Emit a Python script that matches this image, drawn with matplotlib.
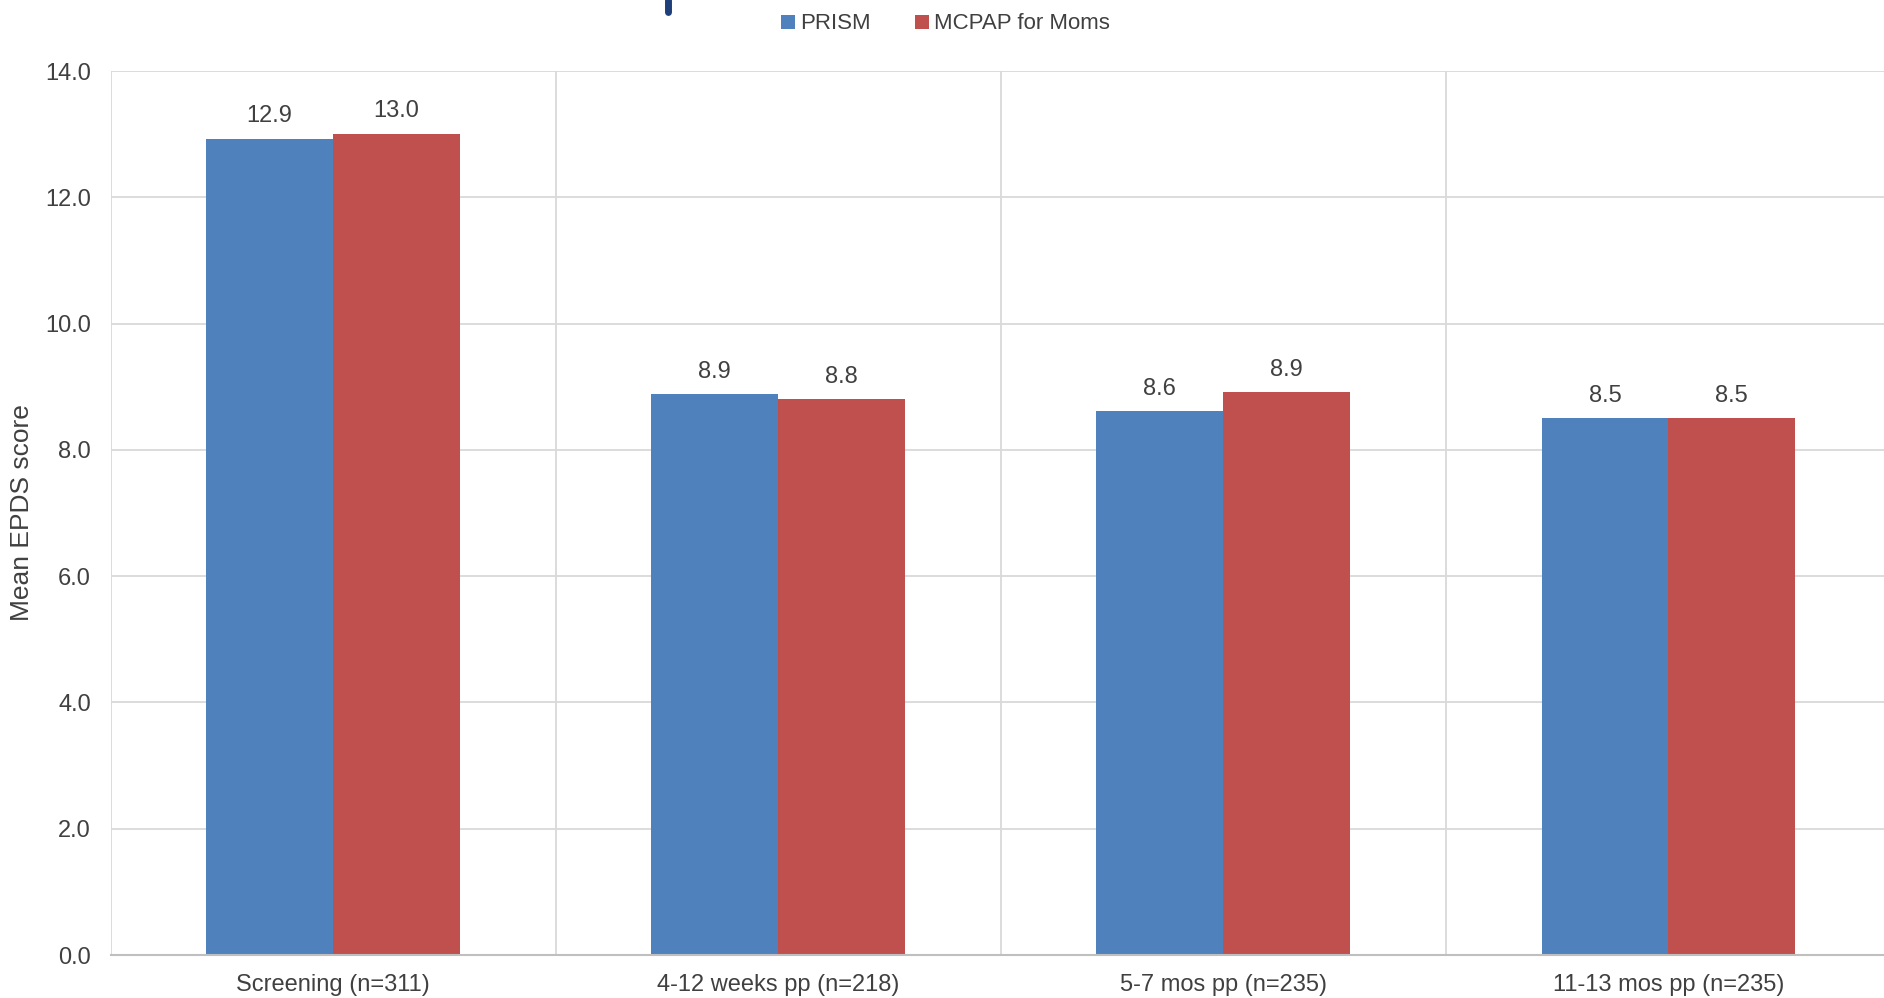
import matplotlib.pyplot as plt
import numpy as np
from matplotlib.lines import Line2D

categories = ['Screening (n=311)', '4-12 weeks pp (n=218)', '5-7 mos pp (n=235)', '11-13 mos pp (n=235)']
prism = [12.93, 8.89, 8.61, 8.50]
mcpap = [13.01, 8.80, 8.91, 8.51]
series_names = ['PRISM', 'MCPAP for Moms']

blue = '#4F81BD'
red = '#C0504D'
txt = '#404040'
grid_c = '#D9D9D9'

plt.rcParams['font.family'] = ['Liberation Sans', 'DejaVu Sans']

fig = plt.figure(figsize=(18.84, 9.98), dpi=100)
ax = fig.add_axes([110.5 / 1884, 1 - 955 / 998, (1891 - 110.5) / 1884, (955 - 71) / 998])

x = np.arange(len(categories))
w = 0.285
b1 = ax.bar(x - w / 2, prism, w, color=blue, label=series_names[0])
b2 = ax.bar(x + w / 2, mcpap, w, color=red, label=series_names[1])

for bars in (b1, b2):
    for b in bars:
        ax.annotate('%.1f' % b.get_height(), (b.get_x() + b.get_width() / 2, b.get_height()),
                    xytext=(0, 8), textcoords='offset points', ha='center', va='bottom',
                    fontsize=17, color=txt)

ax.set_xlim(-0.5, len(categories) - 0.5)
ax.set_ylim(0, 14)
ax.set_yticks(np.arange(0, 14.1, 2))
ax.set_yticklabels(['%.1f' % v for v in np.arange(0, 14.1, 2)])
ax.set_xticks(x)
ax.set_xticklabels(categories)
ax.tick_params(axis='both', length=0, labelsize=17, labelcolor=txt)
ax.tick_params(axis='x', pad=14)
ax.tick_params(axis='y', pad=14)

ax.set_axisbelow(True)
ax.yaxis.grid(True, color=grid_c, linewidth=1.3)
for b in np.arange(-0.5, len(categories), 1.0):
    ax.axvline(b, color=grid_c, linewidth=1.3, zorder=0)

for s in ['top', 'right', 'left']:
    ax.spines[s].set_visible(False)
ax.spines['bottom'].set_color('#BFBFBF')
ax.spines['bottom'].set_linewidth(1.5)

ax.set_ylabel('Mean EPDS score', fontsize=19, color=txt, labelpad=8)

fig.legend(loc='center', bbox_to_anchor=(0.502, 0.976), ncol=2, frameon=False,
           fontsize=16, labelcolor=txt, handlelength=0.6, handleheight=0.6,
           handletextpad=0.25, columnspacing=2.0)

# leftover mark from the slide at the top edge
fig.add_artist(Line2D([668 / 1884, 668 / 1884], [1.0, 1 - 12 / 998], color='#1F3F7A',
                      linewidth=5, solid_capstyle='round'))

fig.savefig('out.png', dpi=100)
